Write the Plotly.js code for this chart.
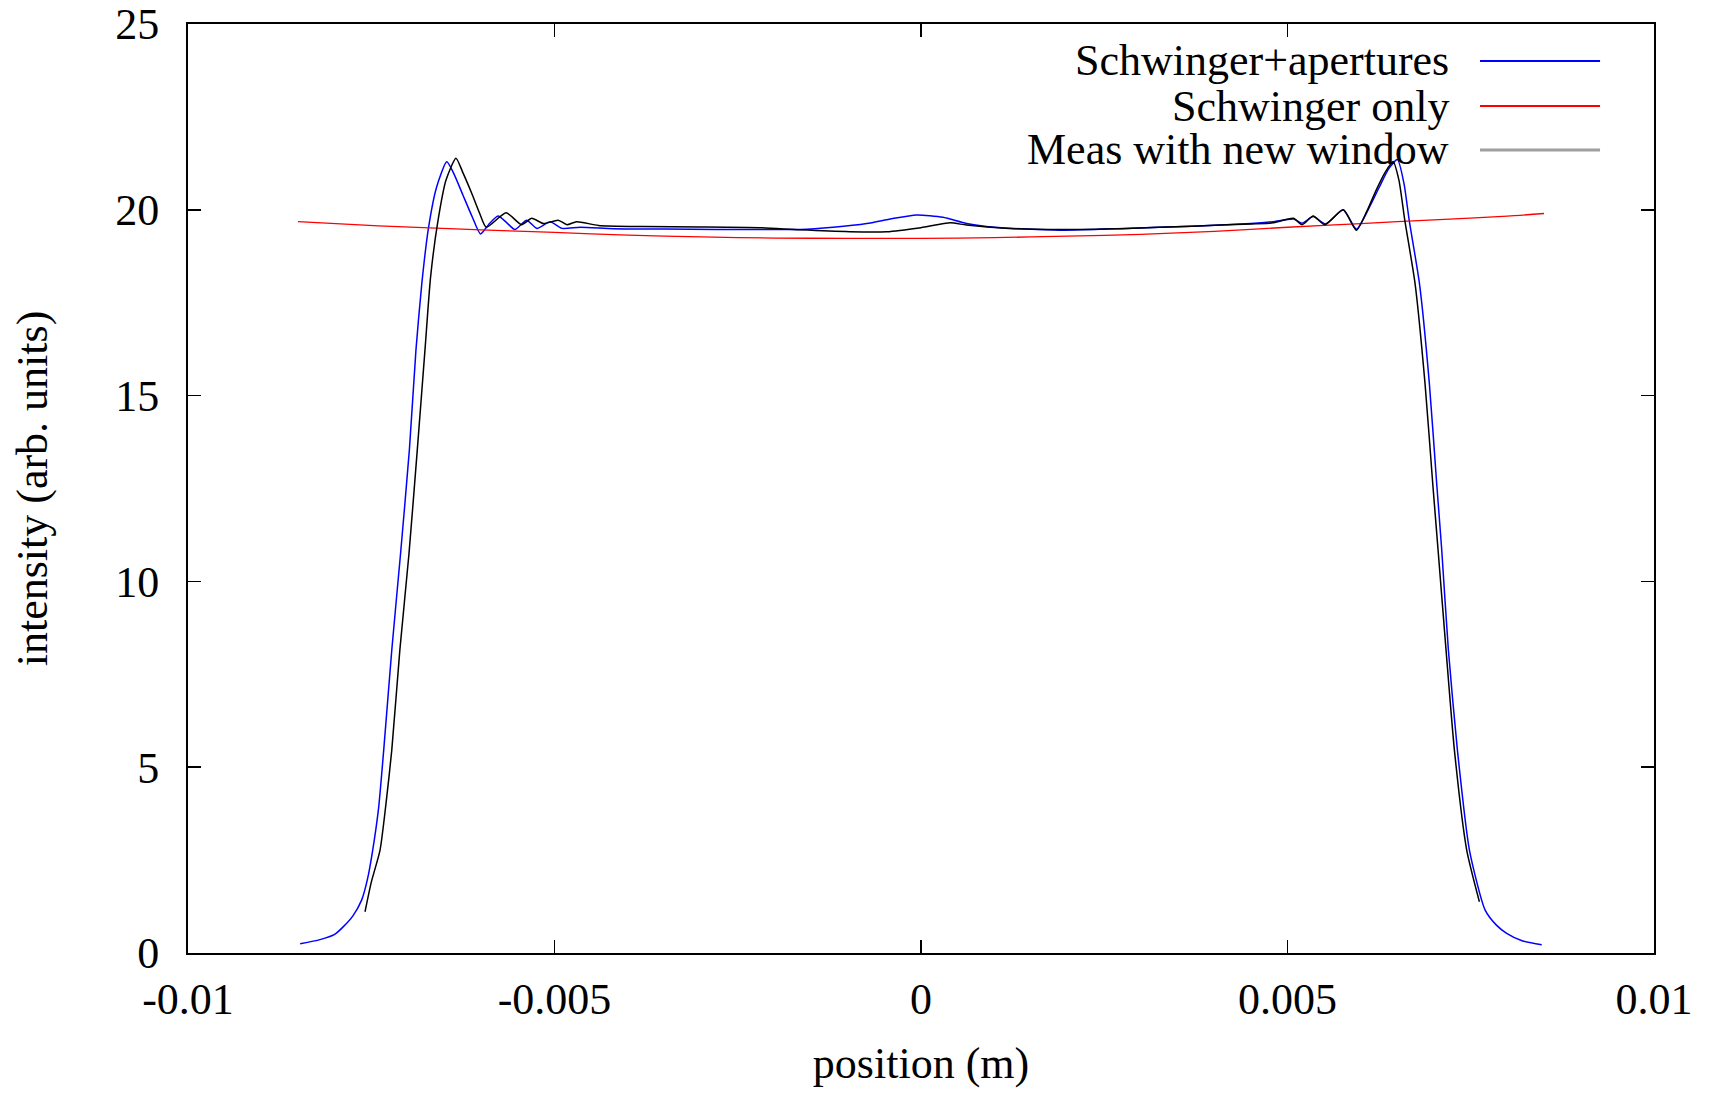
<!DOCTYPE html>
<html>
<head>
<meta charset="utf-8">
<script src="https://cdn.plot.ly/plotly-3.0.1.min.js"></script>
<style>html,body{margin:0;padding:0;background:#fff;}#chart{width:1713px;height:1093px;}</style>
</head>
<body>
<div id="chart"></div>
<script>
// Schwinger+apertures (blue)
var aperX = [-0.00847,-0.0082,-0.0080,-0.00788,-0.00775,-0.00763,-0.00755,-0.00748,-0.0074,-0.00733,-0.00722,-0.0071,-0.00698,-0.00689,-0.00681,-0.00672,-0.00661,-0.00647,-0.00638,-0.00625,-0.00612,-0.00601,-0.0059,-0.00577,-0.00565,-0.00554,-0.00538,-0.00524,-0.00506,-0.0049,-0.00465,-0.0042,-0.0035,-0.0028,-0.0019,-0.00165,-0.0012,-0.00074,-0.0004,-0.00006,0.0003,0.00062,0.0010,0.0019,0.0028,0.0037,0.0045,0.0048,0.00508,0.0052,0.00535,0.00552,0.00576,0.00594,0.0061,0.00625,0.00638,0.0065,0.00659,0.00666,0.0068,0.006935,0.007035,0.007104,0.007195,0.007318,0.007482,0.007695,0.00785,0.00799,0.0082,0.008468];
var aperY = [0.25,0.36,0.5,0.71,1.0,1.43,2.0,2.77,3.9,5.46,8.15,10.75,13.54,16.23,18.02,19.5,20.6,21.29,21.0,20.4,19.8,19.35,19.6,19.83,19.65,19.47,19.72,19.5,19.68,19.5,19.53,19.49,19.48,19.47,19.47,19.47,19.53,19.63,19.76,19.86,19.8,19.63,19.53,19.45,19.5,19.56,19.63,19.68,19.75,19.64,19.82,19.62,20.0,19.48,20.0,20.6,21.1,21.35,20.7,19.72,18.02,15.33,12.64,10.85,8.15,5.46,2.77,1.16,0.75,0.53,0.33,0.22];

// Schwinger only (red)
var schwX = [-0.0085,-0.0074,-0.006,-0.005,-0.004,-0.003,-0.002,-0.001,0,0.001,0.002,0.003,0.004,0.005,0.006,0.007,0.008,0.0085];
var schwY = [19.68,19.57,19.46,19.39,19.32,19.27,19.24,19.23,19.23,19.25,19.29,19.34,19.42,19.53,19.63,19.73,19.83,19.90];

// Meas with new window (black)
var measX = [-0.007585,-0.0075,-0.00738,-0.0073,-0.00722,-0.00711,-0.006985,-0.006872,-0.006767,-0.00669,-0.00659,-0.00648,-0.006344,-0.00625,-0.00612,-0.00602,-0.00593,-0.00566,-0.00545,-0.00531,-0.00515,-0.00495,-0.00483,-0.0047,-0.0044,-0.0038,-0.003,-0.0022,-0.00165,-0.00097,-0.00047,0.0,0.0004,0.00062,0.0012,0.0019,0.0028,0.0037,0.0045,0.0048,0.00508,0.0052,0.00535,0.00551,0.00576,0.00594,0.00608,0.00621,0.00633,0.00644,0.00652,0.0066,0.00674,0.006876,0.006981,0.007058,0.007163,0.007277,0.007445,0.007618];
var measY = [1.11,1.9,2.77,4.0,5.46,8.15,10.75,13.54,16.23,18.2,19.7,20.8,21.39,21.0,20.4,19.9,19.53,19.92,19.6,19.77,19.63,19.72,19.6,19.68,19.58,19.55,19.54,19.52,19.46,19.41,19.41,19.52,19.65,19.59,19.5,19.47,19.5,19.56,19.62,19.65,19.77,19.6,19.83,19.6,20.0,19.45,19.95,20.53,21.0,21.3,20.8,19.72,18.02,15.33,12.64,10.75,8.15,5.46,2.77,1.38];

var seriesNames = ["Schwinger+apertures","Schwinger only","Meas with new window"];
var seriesColors = ["#0000ff","#ff0000","#000000"];
var legendColors = ["#0000ff","#ff0000","#a0a0a0"];

var xTickVals = [-0.01,-0.005,0,0.005,0.01];
var xTickText = ["-0.01","-0.005","0","0.005","0.01"];
var yTickVals = [0,5,10,15,20,25];
var yTickText = ["0","5","10","15","20","25"];

var FONT = "Liberation Serif, Times New Roman, serif";
var FS = 44;

var traces = [
  {x: aperX, y: aperY, type: "scatter", mode: "lines", name: seriesNames[0],
   line: {color: seriesColors[0], width: 1.5, shape: "spline", smoothing: 0.6}},
  {x: schwX, y: schwY, type: "scatter", mode: "lines", name: seriesNames[1],
   line: {color: seriesColors[1], width: 1.3, shape: "spline", smoothing: 0.6}},
  {x: measX, y: measY, type: "scatter", mode: "lines", name: seriesNames[2],
   line: {color: seriesColors[2], width: 1.5, shape: "spline", smoothing: 0.6}}
];

var rowY = [0.9602, 0.9117, 0.8644];
var annotations = [];
var shapes = [];
for (var i = 0; i < 3; i++) {
  annotations.push({xref: "paper", yref: "paper", x: 0.8615, y: rowY[i],
    xanchor: "right", yanchor: "middle", showarrow: false, text: seriesNames[i],
    font: {family: FONT, size: FS, color: "#000"}});
  shapes.push({type: "line", xref: "paper", yref: "paper", x0: 0.8813, x1: 0.9632,
    y0: rowY[i], y1: rowY[i], line: {color: legendColors[i], width: i === 2 ? 3 : 2}});
}

var layout = {
  width: 1713, height: 1093,
  margin: {l: 188, r: 59, t: 24, b: 140, pad: 0},
  paper_bgcolor: "#fff", plot_bgcolor: "#fff",
  showlegend: false,
  font: {family: FONT, size: FS, color: "#000"},
  xaxis: {
    range: [-0.01, 0.01], tickvals: xTickVals, ticktext: xTickText,
    ticks: "inside", ticklen: 13, tickwidth: 1.5, tickcolor: "#000",
    showline: true, linecolor: "#000", linewidth: 2, mirror: "ticks",
    showgrid: false, zeroline: false, ticklabelstandoff: 6,
    tickfont: {family: FONT, size: FS, color: "#000"},
    title: {text: "position (m)", font: {family: FONT, size: FS, color: "#000"}, standoff: 24}
  },
  yaxis: {
    range: [0, 25], tickvals: yTickVals, ticktext: yTickText,
    ticks: "inside", ticklen: 13, tickwidth: 1.5, tickcolor: "#000",
    showline: true, linecolor: "#000", linewidth: 2, mirror: "ticks",
    showgrid: false, zeroline: false, ticklabelstandoff: 18,
    tickfont: {family: FONT, size: FS, color: "#000"},
    title: {text: "intensity (arb. units)", font: {family: FONT, size: FS, color: "#000"}, standoff: 54}
  },
  annotations: annotations,
  shapes: shapes
};

Plotly.newPlot("chart", traces, layout, {displayModeBar: false, staticPlot: true});
</script>
</body>
</html>
